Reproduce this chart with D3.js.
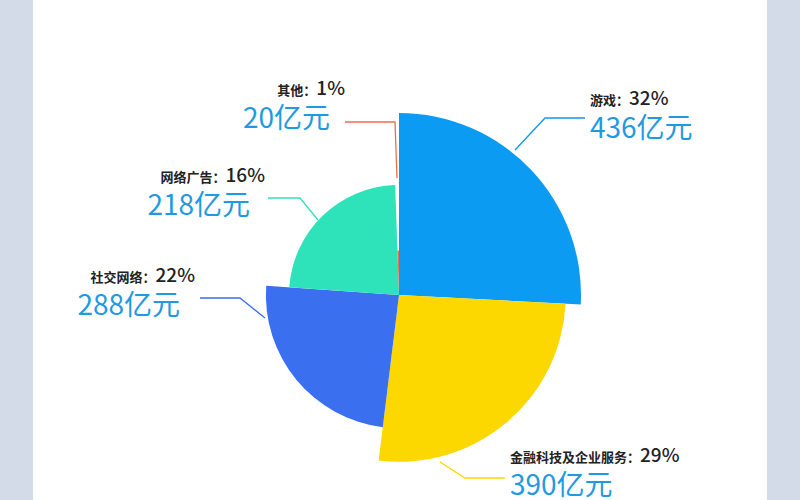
<!DOCTYPE html><html><head><meta charset="utf-8"><script src="https://cdn.jsdelivr.net/npm/d3@7"></script>
<style>body{margin:0}svg{display:block}</style></head><body><svg width="800" height="500"></svg><script>
const categories=["游戏","金融科技及企业服务","社交网络","网络广告","其他"];
const values=[436,390,288,218,20];
const percents=["32%","29%","22%","16%","1%"];
const angleSpans=[93,94,87,84,2];
const colors=["#0b9bf2","#fdd800","#3a6ff0","#2ee2b9","#ee6d4c"];
const labelPos=[[590,105,"start"],[510,462,"start"],[195,282,"end"],[265,182,"end"],[345,95,"end"]];
const leaders=[[[515,150],[545,118],[585,118]],[[440,462],[465,478],[505,478]],[[265,318],[240,298],[200,298]],[[318,220],[300,198],[268,198]],[[397,178],[395,122],[345,122]]];
const svg=d3.select("svg");
svg.append("rect").attr("width",800).attr("height",500).attr("fill","#d4dbe8");
svg.append("rect").attr("x",33).attr("width",734).attr("height",500).attr("fill","#fff");
const cx=399,cy=295;
const r=d3.scaleLinear().domain([0,436]).range([38,182]);
const pie=d3.pie().sort(null).value((d,i)=>angleSpans[i]);
const arcs=pie(values);
const arc=d3.arc().innerRadius(0).outerRadius(d=>r(d.data));
const g=svg.append("g").attr("transform",`translate(${cx},${cy})`);
g.selectAll("path").data(arcs).join("path").attr("d",arc).attr("fill",(d,i)=>colors[i]);
const line=d3.line();
svg.selectAll("path.l").data(leaders).join("path").attr("class","l").attr("d",line).attr("fill","none").attr("stroke",(d,i)=>colors[i]).attr("stroke-width",1.3);
categories.forEach((c,i)=>{const [x,y,a]=labelPos[i];
 const t=svg.append("text").attr("x",x).attr("y",y).attr("text-anchor",a).attr("font-family","Noto Sans CJK SC").attr("fill","#222");
 t.append("tspan").attr("font-size",13).attr("font-weight","bold").text(c+"：");
 t.append("tspan").attr("font-size",19).attr("font-weight","500").text(percents[i]);
 svg.append("text").attr("x",a==="end"?x-15:x).attr("y",y+33).attr("text-anchor",a).attr("font-family","Noto Sans CJK SC").attr("font-size",28).attr("fill","#1f9ae2").text(values[i]+"亿元");
});
</script></body></html>
